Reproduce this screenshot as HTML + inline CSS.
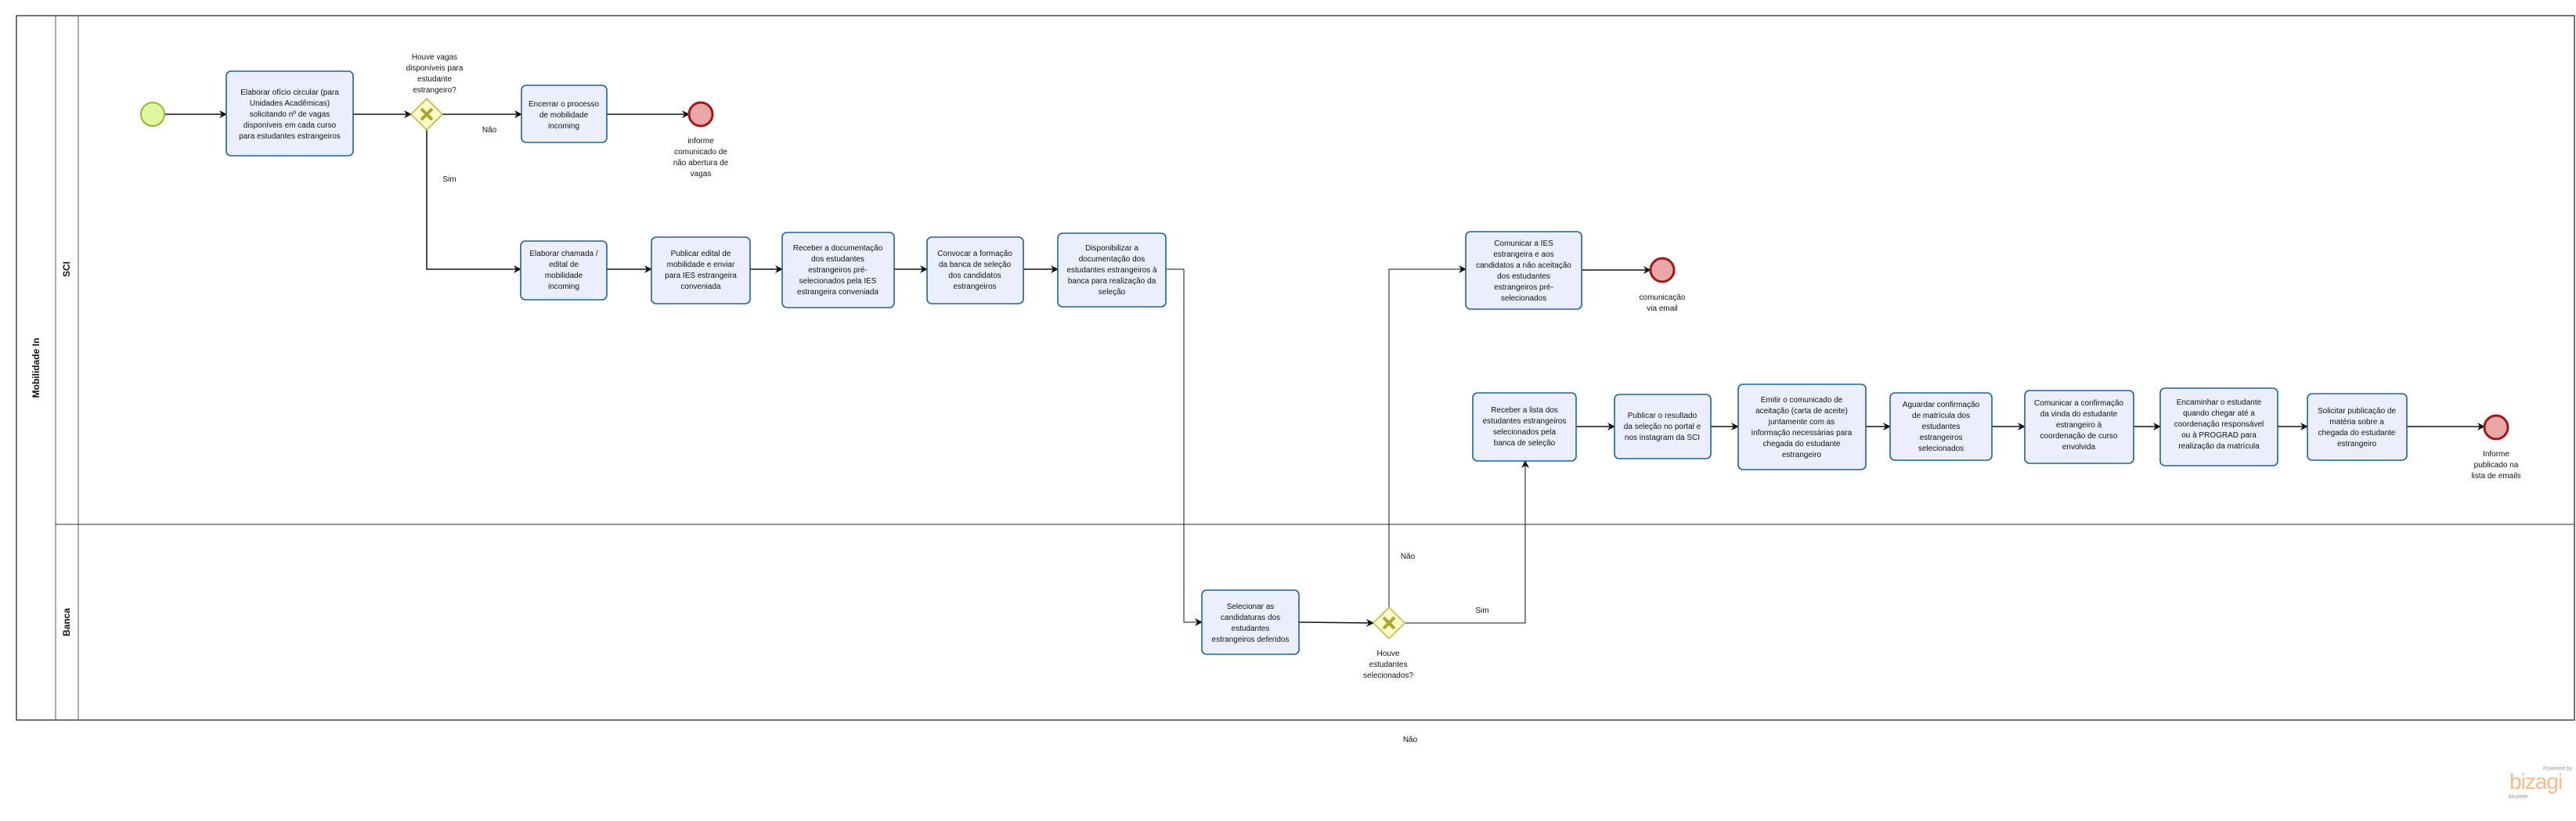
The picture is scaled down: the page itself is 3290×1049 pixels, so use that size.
<!DOCTYPE html>
<html><head><meta charset="utf-8"><style>
html,body{margin:0;padding:0;background:#fff;}
svg{display:block;}
text{font-family:"Liberation Sans",sans-serif;font-size:10px;fill:#111;}
.t{fill:#ebeffd;stroke:#1f6391;stroke-width:1.6;}
.c{fill:none;stroke:#111;stroke-width:1.5;}
</style></head><body>
<svg width="3290" height="1049" viewBox="0 0 3290 1049" xmlns="http://www.w3.org/2000/svg">
<defs>
<marker id="a" markerWidth="10" markerHeight="10" refX="9" refY="5" orient="auto" markerUnits="userSpaceOnUse">
<path d="M0,0 L10,5 L0,10 L3,5 Z" fill="#111"/></marker>
</defs>
<!-- pool -->
<rect x="21" y="20" width="3267" height="900" fill="#fff" stroke="#444" stroke-width="1.5"/>
<line x1="71" y1="20" x2="71" y2="920" stroke="#555" stroke-width="1"/>
<line x1="100" y1="20" x2="100" y2="920" stroke="#555" stroke-width="1"/>
<line x1="71" y1="670" x2="3288" y2="670" stroke="#555" stroke-width="1.2"/>
<text x="47" y="470" transform="rotate(-90 47 470)" text-anchor="middle" dominant-baseline="middle" style="font-weight:bold;font-size:12px">Mobilidade In</text>
<text x="86" y="344" transform="rotate(-90 86 344)" text-anchor="middle" dominant-baseline="middle" style="font-weight:bold;font-size:12px">SCI</text>
<text x="86" y="795" transform="rotate(-90 86 795)" text-anchor="middle" dominant-baseline="middle" style="font-weight:bold;font-size:12px">Banca</text>

<!-- connectors -->
<g class="c">
<path d="M210,146 L289,146" marker-end="url(#a)"/>
<path d="M451,146 L525,146" marker-end="url(#a)"/>
<path d="M565,146 L666,146" marker-end="url(#a)"/>
<path d="M775,146 L880,146" marker-end="url(#a)"/>
<path d="M545,166 L545,344 L665,344" marker-end="url(#a)"/>
<path d="M775,344 L832,344" marker-end="url(#a)"/>
<path d="M958,344 L999,344" marker-end="url(#a)"/>
<path d="M1142,344 L1184,344" marker-end="url(#a)"/>
<path d="M1307,344 L1351,344" marker-end="url(#a)"/>
<path d="M1489,344 L1512,344 L1512,795 L1535,795" marker-end="url(#a)" style="stroke-width:1"/>
<path d="M1659,795 L1754,796" marker-end="url(#a)"/>
<path d="M1774,776 L1774,344 L1872,344" marker-end="url(#a)" style="stroke-width:1"/>
<path d="M2020,345 L2108,345" marker-end="url(#a)"/>
<path d="M1794,796 L1948,796 L1948,589" marker-end="url(#a)" style="stroke-width:1"/>
<path d="M2013,545 L2062,545" marker-end="url(#a)"/>
<path d="M2185,545 L2220,545" marker-end="url(#a)"/>
<path d="M2383,545 L2414,545" marker-end="url(#a)"/>
<path d="M2544,545 L2586,545" marker-end="url(#a)"/>
<path d="M2725,545 L2759,545" marker-end="url(#a)"/>
<path d="M2909,545 L2947,545" marker-end="url(#a)"/>
<path d="M3074,545 L3173,545" marker-end="url(#a)"/>
</g>

<!-- events -->
<circle cx="195" cy="146" r="15" fill="#dff5a0" stroke="#8dbb2a" stroke-width="2"/>
<circle cx="895" cy="146" r="15" fill="#eaa7a7" stroke="#a01818" stroke-width="3"/>
<circle cx="2123" cy="345" r="15" fill="#eaa7a7" stroke="#a01818" stroke-width="3"/>
<circle cx="3188" cy="546" r="15" fill="#eaa7a7" stroke="#a01818" stroke-width="3"/>

<!-- gateways -->
<g>
<path d="M545,126 L565,146 L545,166 L525,146 Z" fill="#fdfcc8" stroke="#b5b53a" stroke-width="1.5"/>
<path d="M538,139 L552,153 M552,139 L538,153" stroke="#a8a530" stroke-width="4"/>
<path d="M1774,776 L1794,796 L1774,816 L1754,796 Z" fill="#fdfcc8" stroke="#b5b53a" stroke-width="1.5"/>
<path d="M1767,789 L1781,803 M1781,789 L1767,803" stroke="#a8a530" stroke-width="4"/>
</g>

<!-- tasks -->
<g>
<rect class="t" x="289" y="91" width="162" height="108" rx="6"/>
<rect class="t" x="666" y="109" width="109" height="73" rx="6"/>
<rect class="t" x="665" y="308" width="110" height="75" rx="6"/>
<rect class="t" x="832" y="303" width="126" height="85" rx="6"/>
<rect class="t" x="999" y="297" width="143" height="96" rx="6"/>
<rect class="t" x="1184" y="303" width="123" height="85" rx="6"/>
<rect class="t" x="1351" y="298" width="138" height="94" rx="6"/>
<rect class="t" x="1872" y="296" width="148" height="99" rx="6"/>
<rect class="t" x="1881" y="502" width="132" height="87" rx="6"/>
<rect class="t" x="2062" y="504" width="123" height="82" rx="6"/>
<rect class="t" x="2220" y="491" width="163" height="109" rx="6"/>
<rect class="t" x="2414" y="502" width="130" height="86" rx="6"/>
<rect class="t" x="2586" y="499" width="139" height="93" rx="6"/>
<rect class="t" x="2759" y="496" width="150" height="99" rx="6"/>
<rect class="t" x="2947" y="503" width="127" height="85" rx="6"/>
<rect class="t" x="1535" y="754" width="124" height="82" rx="6"/>
</g>

<g text-anchor="middle">
<text x="370" y="121">Elaborar ofício circular (para</text>
<text x="370" y="135">Unidades Acadêmicas)</text>
<text x="370" y="149">solicitando nº de vagas</text>
<text x="370" y="163">disponíveis em cada curso</text>
<text x="370" y="177">para estudantes estrangeiros</text>

<text x="720" y="136">Encerrar o processo</text>
<text x="720" y="150">de mobilidade</text>
<text x="720" y="164">incoming</text>

<text x="720" y="327">Elaborar chamada /</text>
<text x="720" y="341">edital de</text>
<text x="720" y="355">mobilidade</text>
<text x="720" y="369">incoming</text>

<text x="895" y="327">Publicar edital de</text>
<text x="895" y="341">mobilidade e enviar</text>
<text x="895" y="355">para IES estrangeira</text>
<text x="895" y="369">conveniada</text>

<text x="1070" y="320">Receber a documentação</text>
<text x="1070" y="334">dos estudantes</text>
<text x="1070" y="348">estrangeiros pré-</text>
<text x="1070" y="362">selecionados pela IES</text>
<text x="1070" y="376">estrangeira conveniada</text>

<text x="1245" y="327">Convocar a formação</text>
<text x="1245" y="341">da banca de seleção</text>
<text x="1245" y="355">dos candidatos</text>
<text x="1245" y="369">estrangeiros</text>

<text x="1420" y="320">Disponibilizar a</text>
<text x="1420" y="334">documentação dos</text>
<text x="1420" y="348">estudantes estrangeiros à</text>
<text x="1420" y="362">banca para realização da</text>
<text x="1420" y="376">seleção</text>

<text x="1946" y="314">Comunicar a IES</text>
<text x="1946" y="328">estrangeira e aos</text>
<text x="1946" y="342">candidatos a não aceitação</text>
<text x="1946" y="356">dos estudantes</text>
<text x="1946" y="370">estrangeiros pré-</text>
<text x="1946" y="384">selecionados</text>

<text x="1947" y="527">Receber a lista dos</text>
<text x="1947" y="541">estudantes estrangeiros</text>
<text x="1947" y="555">selecionados pela</text>
<text x="1947" y="569">banca de seleção</text>

<text x="2123" y="534">Publicar o resultado</text>
<text x="2123" y="548">da seleção no portal e</text>
<text x="2123" y="562">nos instagram da SCI</text>

<text x="2301" y="514">Emitir o comunicado de</text>
<text x="2301" y="528">aceitação (carta de aceite)</text>
<text x="2301" y="542">juntamente com as</text>
<text x="2301" y="556">informação necessárias para</text>
<text x="2301" y="570">chegada do estudante</text>
<text x="2301" y="584">estrangeiro</text>

<text x="2479" y="520">Aguardar confirmação</text>
<text x="2479" y="534">de matrícula dos</text>
<text x="2479" y="548">estudantes</text>
<text x="2479" y="562">estrangeiros</text>
<text x="2479" y="576">selecionados</text>

<text x="2655" y="518">Comunicar a confirmação</text>
<text x="2655" y="532">da vinda do estudante</text>
<text x="2655" y="546">estrangeiro à</text>
<text x="2655" y="560">coordenação de curso</text>
<text x="2655" y="574">envolvida</text>

<text x="2834" y="517">Encaminhar o estudante</text>
<text x="2834" y="531">quando chegar até a</text>
<text x="2834" y="545">coordenação responsável</text>
<text x="2834" y="559">ou à PROGRAD para</text>
<text x="2834" y="573">realização da matrícula</text>

<text x="3010" y="528">Solicitar publicação de</text>
<text x="3010" y="542">matéria sobre a</text>
<text x="3010" y="556">chegada do estudante</text>
<text x="3010" y="570">estrangeiro</text>

<text x="1597" y="778">Selecionar as</text>
<text x="1597" y="792">candidaturas dos</text>
<text x="1597" y="806">estudantes</text>
<text x="1597" y="820">estrangeiros deferidos</text>

<!-- labels -->
<text x="555" y="76">Houve vagas</text>
<text x="555" y="90">disponíveis para</text>
<text x="555" y="104">estudante</text>
<text x="555" y="118">estrangeiro?</text>
<text x="625" y="169">Não</text>
<text x="574" y="232">Sim</text>
<text x="895" y="183">informe</text>
<text x="895" y="197">comunicado de</text>
<text x="895" y="211">não abertura de</text>
<text x="895" y="225">vagas</text>
<text x="2123" y="383">comunicação</text>
<text x="2123" y="397">via email</text>
<text x="3188" y="583">Informe</text>
<text x="3188" y="597">publicado na</text>
<text x="3188" y="611">lista de emails</text>
<text x="1798" y="714">Não</text>
<text x="1893" y="783">Sim</text>
<text x="1773" y="838">Houve</text>
<text x="1773" y="852">estudantes</text>
<text x="1773" y="866">selecionados?</text>
<text x="1801" y="948">Não</text>
</g>

<!-- bizagi logo -->
<text x="3285" y="984" text-anchor="end" style="font-size:7px;fill:#999">Powered by</text>
<text x="3205" y="1008" style="font-size:28px;fill:#f5b98a;letter-spacing:-1px">bizagi</text>
<text x="3204" y="1020" style="font-size:7px;fill:#999">Modeler</text>
</svg>
</body></html>
